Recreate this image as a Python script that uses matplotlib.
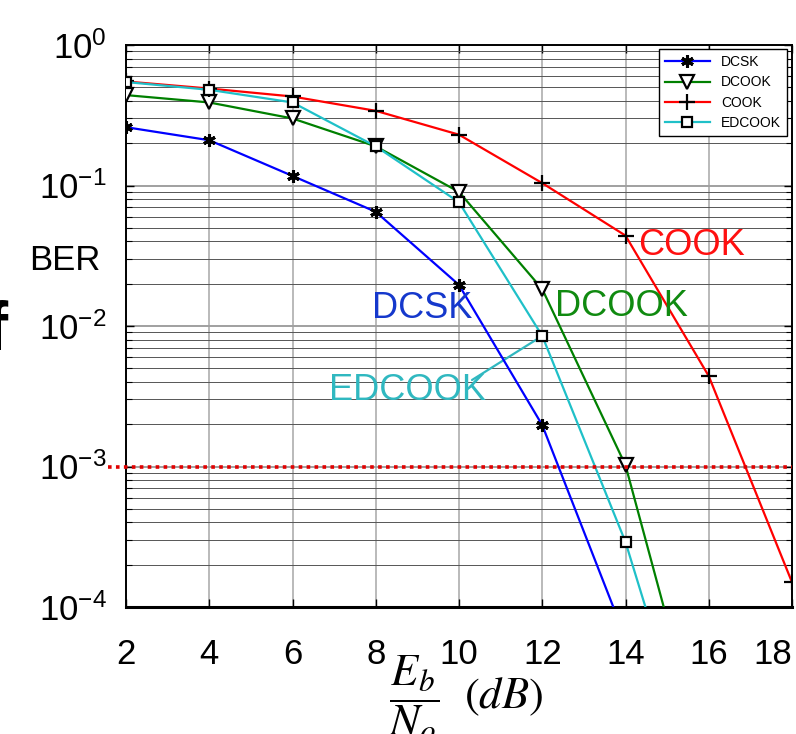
import numpy as np
import matplotlib
matplotlib.use('Agg')
import matplotlib.pyplot as plt
from matplotlib.lines import Line2D
from matplotlib.ticker import LogLocator, NullFormatter, MultipleLocator

# - - - - - - - - - - - - - - - - - - - - - - - - - - - - - - - - -
# DATA
# - - - - - - - - - - - - - - - - - - - - - - - - - - - - - - - - -

snr = [2, 4, 6, 8, 10, 12, 14, 16, 18]

dcsk = [0.26, 0.21, 0.117, 0.065, 0.0196, 0.00197, 6.0e-5]
dcook = [0.44, 0.39, 0.30, 0.19, 0.090, 0.0183, 0.00102, 6.5e-6]
cook = [0.55, 0.49, 0.43, 0.34, 0.23, 0.104, 0.044, 0.0044, 1.5e-4]
edcook = [0.545, 0.48, 0.39, 0.19, 0.076, 0.0085, 2.9e-4, 3.4e-6]

ber_target = 1e-3

BLUE = '#0000FF'
GREEN = '#008000'
RED = '#FF0000'
CYAN = '#1FC0C8'

plt.rcParams['font.family'] = ['Liberation Sans', 'DejaVu Sans']
plt.rcParams['mathtext.fontset'] = 'stix'
plt.rcParams['axes.unicode_minus'] = False

W, H = 796, 734
fig = plt.figure(figsize=(W / 100, H / 100), dpi=100)


def fx(px):
    return px / W


def fy(py):
    return 1 - py / H


ax = fig.add_axes([fx(126), fy(607), fx(792) - fx(126), fy(45) - fy(607)])

# - - - - - - - - - - - - - - - - - - - - - - - - - - - - - - - - -
# CURVES
# - - - - - - - - - - - - - - - - - - - - - - - - - - - - - - - - -

mk = dict(markeredgecolor='k', zorder=4)
ax.plot(snr[:len(dcsk)], dcsk, color=BLUE, lw=1.6, marker=(6, 2, 0), ms=9,
        mew=2.2, label='DCSK', **mk)
ax.plot(snr[:len(dcook)], dcook, color=GREEN, lw=1.6, marker='v', ms=10,
        mew=1.6, markerfacecolor='white', label='DCOOK', **mk)
ax.plot(snr[:len(cook)], cook, color=RED, lw=1.6, marker='+', ms=11,
        mew=1.6, label='COOK', **mk)
ax.plot(snr[:len(edcook)], edcook, color=CYAN, lw=1.6, marker='s', ms=7.5,
        mew=1.6, markerfacecolor='white', label='EDCOOK', **mk)

# target BER line, runs a little past the left spine
ax.add_line(Line2D([-18 / 666, 1], [ber_target, ber_target], color='#E00000',
                   lw=2.6, ls=(0, (1, 1.2)), transform=ax.get_yaxis_transform(),
                   clip_on=False, zorder=5))

# - - - - - - - - - - - - - - - - - - - - - - - - - - - - - - - - -
# AXES
# - - - - - - - - - - - - - - - - - - - - - - - - - - - - - - - - -

ax.set_yscale('log')
ax.set_xlim(2, 18)
ax.set_ylim(1e-4, 1)
ax.xaxis.set_major_locator(MultipleLocator(2))
ax.yaxis.set_major_locator(LogLocator(base=10, numticks=10))
ax.yaxis.set_minor_locator(LogLocator(base=10, subs=np.arange(2, 10), numticks=20))
ax.yaxis.set_minor_formatter(NullFormatter())

ax.grid(True, which='major', axis='x', color='#b4b4b4', lw=1.3)
ax.grid(True, which='major', axis='y', color='#a0a0a0', lw=1.4)
ax.grid(True, which='minor', axis='y', color='#555555', lw=0.7)
ax.set_axisbelow(True)

ax.tick_params(which='both', direction='in', top=True, right=True, colors='k')
ax.tick_params(which='major', length=6, width=1)
ax.tick_params(which='minor', length=4, width=0.8)
ax.tick_params(axis='x', labelsize=25, pad=22)
ax.tick_params(axis='y', labelsize=25, pad=14)
for s in ax.spines.values():
    s.set_linewidth(1.4)
    s.set_color('k')
ax.spines['bottom'].set_linewidth(2.2)

# last label sits against the right edge of the picture
ax.figure.canvas.draw()
for lab, t in zip(ax.get_xticklabels(), ax.get_xticks()):
    if t == 18:
        lab.set_horizontalalignment('right')

leg = ax.legend(loc='upper right', bbox_to_anchor=(fx(787), fy(49)),
                bbox_transform=fig.transFigure, fontsize=10, handlelength=3.2,
                labelspacing=0.45, borderaxespad=0, borderpad=0.45,
                fancybox=False, framealpha=1, edgecolor='k')
leg.get_frame().set_linewidth(1.0)

# - - - - - - - - - - - - - - - - - - - - - - - - - - - - - - - - -
# LABELS
# - - - - - - - - - - - - - - - - - - - - - - - - - - - - - - - - -

fig.text(fx(65), fy(260), 'BER', fontsize=25, ha='center', va='center')
fig.text(fx(466), fy(698), r'$\dfrac{E_b}{N_o}\ \ (dB)$', fontsize=32,
         ha='center', va='center')
fig.text(fx(8), fy(332), 'f', fontsize=50, fontweight='bold', ha='right',
         va='center')

fig.text(fx(691), fy(246), 'COOK', color='#FF1010', fontsize=26, ha='center', va='center')
fig.text(fx(422), fy(308), 'DCSK', color='#1538CC', fontsize=26, ha='center', va='center')
fig.text(fx(621), fy(307), 'DCOOK', color='#108A10', fontsize=26, ha='center', va='center')
fig.text(fx(408), fy(390), 'EDCOOK', color='#30B8C0', fontsize=26, ha='center', va='center')
ax.annotate('', xy=(snr[5], edcook[5]), xytext=(fx(472), fy(380)),
            textcoords='figure fraction',
            arrowprops=dict(arrowstyle='-', color='#30B8C0', lw=1.6,
                            shrinkA=0, shrinkB=5))

fig.savefig('out.png', dpi=100)
